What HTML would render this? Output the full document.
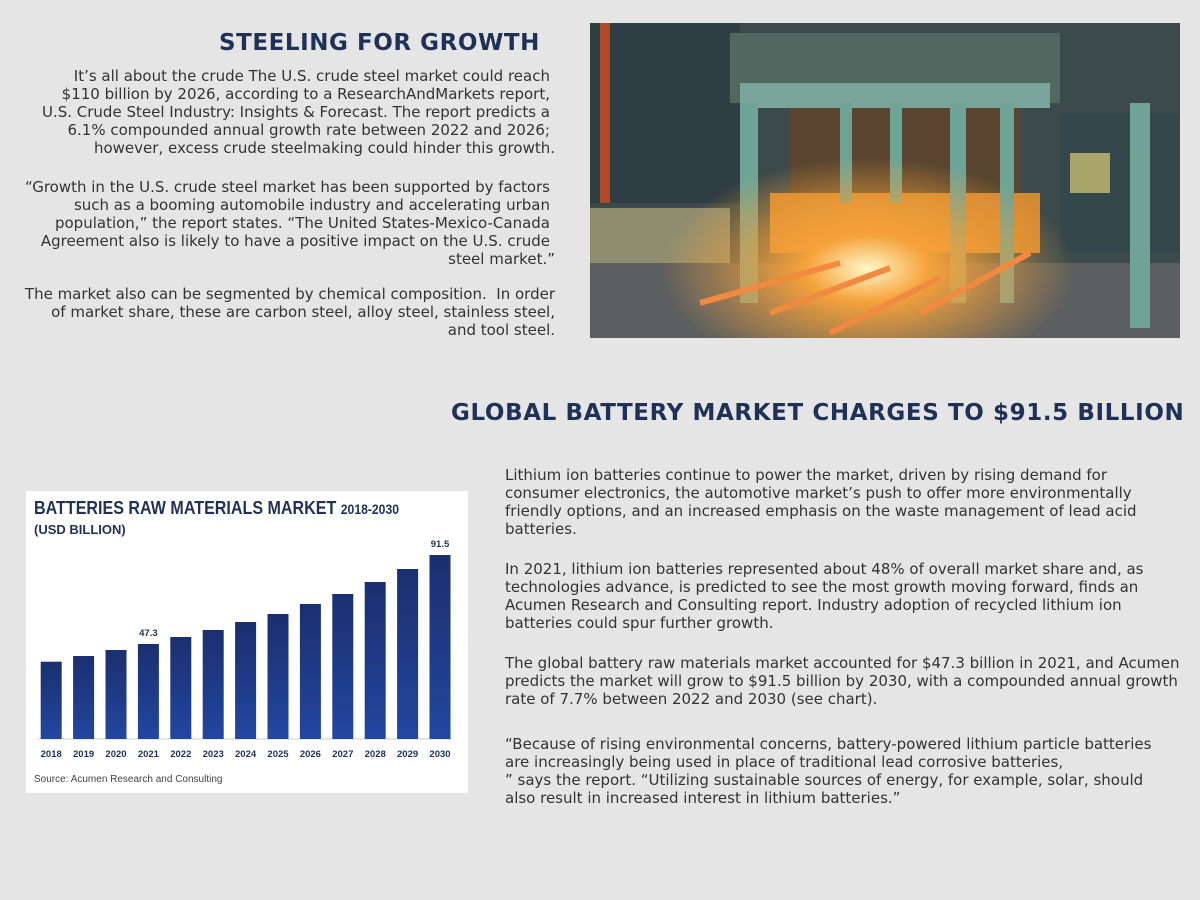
<!DOCTYPE html>
<html><head><meta charset="utf-8"><style>
html,body{margin:0;padding:0}
body{width:1200px;height:900px;background:#e5e5e5;position:relative;overflow:hidden;font-family:"DejaVu Sans","Liberation Sans",sans-serif;color:#333}
.t{position:absolute;font-size:15px;line-height:18px;white-space:nowrap}
.r{text-align:right}
h1,h2{position:absolute;margin:0;color:#1f3157;font-weight:bold;white-space:nowrap}
</style></head><body>
<h1 style="left:219px;top:30px;font-size:23px;letter-spacing:0.55px">STEELING FOR GROWTH</h1>
<div class="t r" style="right:650px;top:67px">It’s all about the crude The U.S. crude steel market could reach<br>$110 billion by 2026, according to a ResearchAndMarkets report,<br>U.S. Crude Steel Industry: Insights &amp; Forecast. The report predicts a<br>6.1% compounded annual growth rate between 2022 and 2026;<br><span style="margin-right:-5px">however, excess crude steelmaking could hinder this growth.</span></div>
<div class="t r" style="right:650px;top:178px">“Growth in the U.S. crude steel market has been supported by factors<br>such as a booming automobile industry and accelerating urban<br>population,” the report states. “The United States-Mexico-Canada<br>Agreement also is likely to have a positive impact on the U.S. crude<br><span style="margin-right:-5px">steel market.”</span></div>
<div class="t r" style="right:645px;top:285px">The market also can be segmented by chemical composition.&nbsp; In order<br>of market share, these are carbon steel, alloy steel, stainless steel,<br>and tool steel.</div>

<svg style="position:absolute;left:590px;top:23px" width="590" height="315" viewBox="0 0 590 315">
<defs>
<radialGradient id="g" cx="0.47" cy="0.78" r="0.35"><stop offset="0" stop-color="#fff6c8"/><stop offset="0.3" stop-color="#f6a23a"/><stop offset="1" stop-color="#f6a23a" stop-opacity="0"/></radialGradient>
</defs>
<rect width="590" height="315" fill="#3c4a4c"/>
<rect x="0" y="0" width="150" height="180" fill="#2e3e42"/>
<rect x="0" y="185" width="140" height="70" fill="#8e8d70"/>
<rect x="140" y="10" width="330" height="70" fill="#50685f"/>
<rect x="150" y="60" width="310" height="25" fill="#7aa59a"/>
<rect x="200" y="85" width="230" height="110" fill="#5a4630"/>
<rect x="180" y="170" width="270" height="60" fill="#d48a32"/>
<rect x="0" y="240" width="590" height="75" fill="#5c5f5f"/>
<rect x="470" y="90" width="120" height="140" fill="#34474a"/>
<rect x="480" y="130" width="40" height="40" fill="#a9a46a"/>
<rect x="10" y="0" width="10" height="180" fill="#b04a2a"/>
<g fill="#6fa395"><rect x="150" y="80" width="18" height="200"/><rect x="540" y="80" width="20" height="225"/><rect x="360" y="80" width="16" height="200"/><rect x="410" y="80" width="14" height="200"/><rect x="250" y="80" width="12" height="100"/><rect x="300" y="80" width="12" height="100"/></g>
<rect width="590" height="315" fill="url(#g)"/>
<g stroke="#f08a40" stroke-width="6"><line x1="110" y1="280" x2="250" y2="240"/><line x1="180" y1="290" x2="300" y2="245"/><line x1="240" y1="310" x2="350" y2="255"/><line x1="330" y1="290" x2="440" y2="230"/></g>
</svg>

<h2 style="left:451px;top:400px;font-size:23px;letter-spacing:0.6px">GLOBAL BATTERY MARKET CHARGES TO $91.5 BILLION</h2>

<svg style="position:absolute;left:26px;top:491px" width="442" height="302" viewBox="0 0 442 302" font-family="Liberation Sans, sans-serif">
<defs><linearGradient id="b" x1="0" y1="0" x2="0" y2="1"><stop offset="0" stop-color="#1a2f6e"/><stop offset="1" stop-color="#2346a0"/></linearGradient></defs>
<rect width="442" height="302" fill="#fff"/>
<text x="8" y="23" font-size="18.5" font-weight="bold" fill="#1f3157" textLength="365" lengthAdjust="spacingAndGlyphs">BATTERIES RAW MATERIALS MARKET <tspan font-size="14">2018-2030</tspan></text>
<text x="8" y="43" font-size="13" font-weight="bold" fill="#1f3157">(USD BILLION)</text>
<line x1="11" y1="248" x2="426" y2="248" stroke="#ccc"/>
<g fill="url(#b)">
<rect x="14.7" y="170.7" width="21" height="77.3"/>
<rect x="47.1" y="165" width="21" height="83"/>
<rect x="79.5" y="159" width="21" height="89"/>
<rect x="111.9" y="153" width="21" height="95"/>
<rect x="144.3" y="146" width="21" height="102"/>
<rect x="176.7" y="139" width="21" height="109"/>
<rect x="209.1" y="131" width="21" height="117"/>
<rect x="241.5" y="123" width="21" height="125"/>
<rect x="273.9" y="113" width="21" height="135"/>
<rect x="306.3" y="103" width="21" height="145"/>
<rect x="338.7" y="91" width="21" height="157"/>
<rect x="371.1" y="78" width="21" height="170"/>
<rect x="403.5" y="64" width="21" height="184"/>
</g>
<g font-size="9.5" font-weight="bold" fill="#1f3157" text-anchor="middle">
<text x="122.4" y="145">47.3</text><text x="414" y="56">91.5</text>
<text x="25.2" y="266">2018</text><text x="57.6" y="266">2019</text><text x="90" y="266">2020</text><text x="122.4" y="266">2021</text><text x="154.8" y="266">2022</text><text x="187.2" y="266">2023</text><text x="219.6" y="266">2024</text><text x="252" y="266">2025</text><text x="284.4" y="266">2026</text><text x="316.8" y="266">2027</text><text x="349.2" y="266">2028</text><text x="381.6" y="266">2029</text><text x="414" y="266">2030</text>
</g>
<text x="8" y="291" font-size="10" fill="#444">Source: Acumen Research and Consulting</text>
</svg>

<div class="t" style="left:505px;top:466px">Lithium ion batteries continue to power the market, driven by rising demand for<br>consumer electronics, the automotive market’s push to offer more environmentally<br>friendly options, and an increased emphasis on the waste management of lead acid<br>batteries.</div>
<div class="t" style="left:505px;top:560px">In 2021, lithium ion batteries represented about 48% of overall market share and, as<br>technologies advance, is predicted to see the most growth moving forward, finds an<br>Acumen Research and Consulting report. Industry adoption of recycled lithium ion<br>batteries could spur further growth.</div>
<div class="t" style="left:505px;top:654px">The global battery raw materials market accounted for $47.3 billion in 2021, and Acumen<br>predicts the market will grow to $91.5 billion by 2030, with a compounded annual growth<br>rate of 7.7% between 2022 and 2030 (see chart).</div>
<div class="t" style="left:505px;top:735px">“Because of rising environmental concerns, battery-powered lithium particle batteries<br>are increasingly being used in place of traditional lead corrosive batteries,<br>” says the report. “Utilizing sustainable sources of energy, for example, solar, should<br>also result in increased interest in lithium batteries.”</div>
</body></html>
